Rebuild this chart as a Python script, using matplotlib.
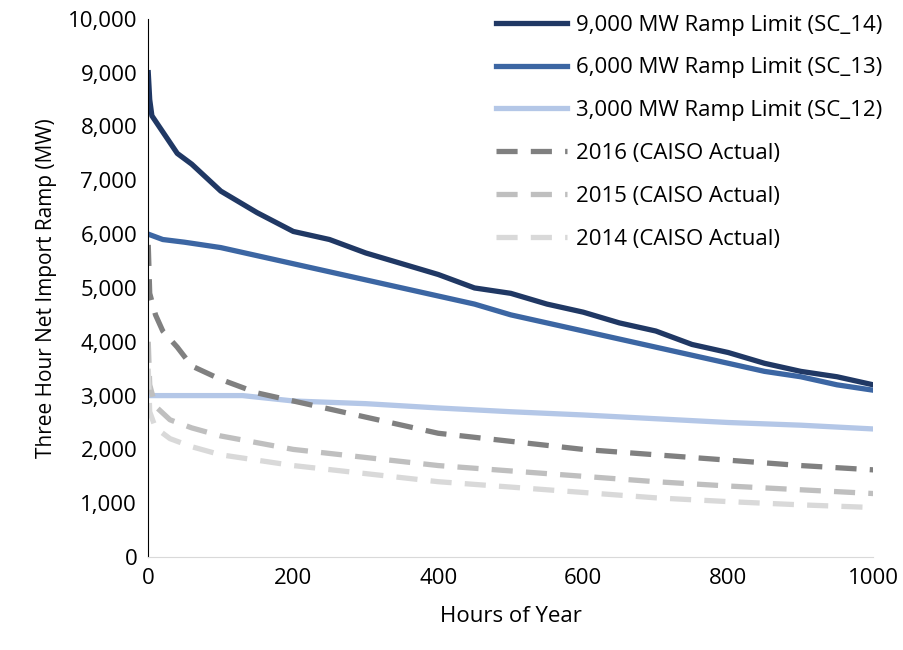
import matplotlib
matplotlib.use("Agg")
import matplotlib.pyplot as plt
from matplotlib.ticker import FuncFormatter

plt.rcParams["font.family"] = ["Open Sans", "DejaVu Sans"]

sc14_x = [0, 2, 5, 20, 40, 60, 100, 150, 200, 250, 300, 350, 400, 450, 500, 550, 600, 650, 700, 750, 800, 850, 900, 950, 1000]
sc14_y = [9000, 8500, 8200, 7900, 7500, 7300, 6800, 6400, 6050, 5900, 5650, 5450, 5250, 5000, 4900, 4700, 4550, 4350, 4200, 3950, 3800, 3600, 3450, 3350, 3200]
sc13_x = [0, 20, 50, 100, 150, 200, 250, 300, 350, 400, 450, 500, 550, 600, 650, 700, 750, 800, 850, 900, 950, 1000]
sc13_y = [6000, 5900, 5850, 5750, 5600, 5450, 5300, 5150, 5000, 4850, 4700, 4500, 4350, 4200, 4050, 3900, 3750, 3600, 3450, 3350, 3200, 3100]
sc12_x = [0, 130, 200, 300, 400, 500, 600, 700, 800, 900, 1000]
sc12_y = [3000, 3000, 2900, 2850, 2770, 2700, 2640, 2570, 2500, 2450, 2380]
a16_x = [0, 2, 10, 20, 40, 60, 100, 150, 200, 300, 400, 500, 600, 700, 800, 900, 1000]
a16_y = [5800, 4900, 4500, 4200, 3900, 3550, 3300, 3050, 2900, 2600, 2300, 2150, 2000, 1900, 1800, 1700, 1620]
a15_x = [0, 2, 10, 30, 60, 100, 200, 300, 400, 500, 600, 700, 800, 900, 1000]
a15_y = [4000, 3200, 2800, 2550, 2400, 2250, 2000, 1850, 1700, 1600, 1500, 1400, 1320, 1250, 1180]
a14_x = [0, 2, 10, 30, 60, 100, 200, 300, 400, 500, 600, 700, 800, 900, 1000]
a14_y = [3500, 2700, 2400, 2200, 2050, 1900, 1700, 1550, 1400, 1300, 1200, 1100, 1030, 970, 920]

fig, ax = plt.subplots(figsize=(9.04, 6.5), dpi=100)
ax.plot(sc14_x, sc14_y, color="#203864", lw=3.8, label="9,000 MW Ramp Limit (SC_14)")
ax.plot(sc13_x, sc13_y, color="#3c66a3", lw=3.8, label="6,000 MW Ramp Limit (SC_13)")
ax.plot(sc12_x, sc12_y, color="#b4c7e7", lw=3.8, label="3,000 MW Ramp Limit (SC_12)")
ax.plot(a16_x, a16_y, color="#808080", lw=3.8, ls=(0, (4, 2.5)), label="2016 (CAISO Actual)")
ax.plot(a15_x, a15_y, color="#bfbfbf", lw=3.8, ls=(0, (4, 2.5)), label="2015 (CAISO Actual)")
ax.plot(a14_x, a14_y, color="#d9d9d9", lw=3.8, ls=(0, (4, 2.5)), label="2014 (CAISO Actual)")

ax.set_xlim(0, 1000)
ax.set_ylim(0, 10000)
ax.set_yticks(range(0, 10001, 1000))
ax.set_xticks(range(0, 1001, 200))
ax.yaxis.set_major_formatter(FuncFormatter(lambda v, p: f"{int(v):,}"))
ax.tick_params(labelsize=16, length=0, pad=8)
for s in ["top", "right"]:
    ax.spines[s].set_visible(False)
ax.spines["left"].set_color("black")
ax.spines["bottom"].set_color("#d9d9d9")
ax.set_xlabel("Hours of Year", fontsize=16, labelpad=12)
ax.set_ylabel("Three Hour Net Import Ramp (MW)", fontsize=15, labelpad=8)
ax.legend(loc="upper right", bbox_to_anchor=(1.04, 1.045), frameon=False, fontsize=16,
          handlelength=3.2, labelspacing=0.98, handletextpad=0.4)

plt.subplots_adjust(left=0.164, right=0.966, top=0.971, bottom=0.143)
plt.savefig("out.png")
